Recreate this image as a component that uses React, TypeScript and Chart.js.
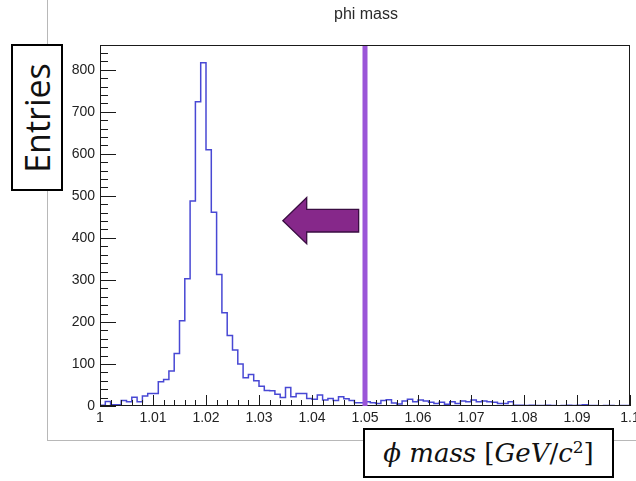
import React, { useEffect, useRef } from "react";
import { Chart, registerables } from "chart.js";

Chart.register(...registerables);

// ---- data ----
const X_MIN = 1.0;
const X_MAX = 1.1;
const BIN_WIDTH = 0.001;
const Y_MAX = 859;

const binValues = [
  2, 11, 3, 3, 13, 10, 21, 10, 24, 30,
  30, 58, 63, 83, 125, 203, 303, 488, 724, 817,
  610, 461, 313, 222, 168, 133, 100, 67, 75, 60,
  47, 37, 36, 28, 20, 44, 22, 30, 30, 18,
  16, 26, 14, 18, 13, 22, 17, 13, 8, 8,
  10, 8, 6, 13, 15, 7, 5, 12, 16, 10,
  14, 12, 9, 6, 9, 4, 10, 6, 12, 10,
  14, 10, 12, 10, 9, 6, 6, 10, 2, 2,
  1, 2, 1, 1, 2, 1, 0, 1, 2, 1,
  2, 3, 1, 1, 0, 1, 1, 0, 1, 1,
];

const xTickStep = 0.01;
const xMinorStep = 0.002;
const yTickStep = 100;
const yMinorStep = 20;

const chartTitle = "phi mass";
const yBoxLabel = "Entries";

// cut marker and arrow (data units)
const cutValue = 1.05;
const arrowTip = 1.0345;
const arrowHeadBase = 1.039;
const arrowTail = 1.0488;
const arrowLevel = 441;
const arrowHeadHalf = 55;
const arrowShaftHalf = 27;

const fmtX = (v: number) => Number(Number(v).toFixed(3)).toString();

const rootPlugin = {
  id: "rootStyle",
  afterDatasetsDraw(chart: any) {
    const { ctx, chartArea: a, scales } = chart;
    const x = scales.x;
    const y = scales.y;
    ctx.save();
    const seg = (x1: number, y1: number, x2: number, y2: number) => {
      ctx.beginPath();
      ctx.moveTo(x1, y1);
      ctx.lineTo(x2, y2);
      ctx.stroke();
    };
    // frame
    ctx.strokeStyle = "#1a1a1a";
    ctx.lineWidth = 1;
    ctx.strokeRect(a.left + 0.5, a.top + 0.5, a.right - a.left - 1, a.bottom - a.top - 1);
    // y ticks (inside)
    for (let v = 0; v <= Y_MAX; v += yMinorStep) {
      const py = Math.round(y.getPixelForValue(v)) + 0.5;
      const len = v % yTickStep === 0 ? 16 : 8;
      seg(a.left, py, a.left + len, py);
    }
    // x ticks (inside)
    const n = Math.round((X_MAX - X_MIN) / xMinorStep);
    const per = Math.round(xTickStep / xMinorStep);
    for (let i = 0; i <= n; i++) {
      const v = X_MIN + i * xMinorStep;
      const px = Math.round(x.getPixelForValue(v)) + 0.5;
      const len = i % per === 0 ? 11 : 6;
      seg(px, a.bottom, px, a.bottom - len);
    }
    // arrow
    const tx = x.getPixelForValue(arrowTip);
    const hx = x.getPixelForValue(arrowHeadBase);
    const ex = x.getPixelForValue(arrowTail);
    const cy = y.getPixelForValue(arrowLevel);
    const hh = y.getPixelForValue(arrowLevel - arrowHeadHalf) - cy;
    const sh = y.getPixelForValue(arrowLevel - arrowShaftHalf) - cy;
    ctx.beginPath();
    ctx.moveTo(tx, cy);
    ctx.lineTo(hx, cy - hh);
    ctx.lineTo(hx, cy - sh);
    ctx.lineTo(ex, cy - sh);
    ctx.lineTo(ex, cy + sh);
    ctx.lineTo(hx, cy + sh);
    ctx.lineTo(hx, cy + hh);
    ctx.closePath();
    ctx.fillStyle = "#86288a";
    ctx.fill();
    ctx.strokeStyle = "#3a0d42";
    ctx.lineWidth = 1.3;
    ctx.stroke();
    // cut line
    const cx = x.getPixelForValue(cutValue);
    ctx.strokeStyle = "#9b55d8";
    ctx.lineWidth = 5;
    seg(cx, a.top + 1, cx, a.bottom);
    // title
    ctx.fillStyle = "#2a2a2a";
    ctx.font = "16px 'Liberation Sans', Arial, sans-serif";
    ctx.textAlign = "center";
    ctx.textBaseline = "middle";
    ctx.fillText(chartTitle, (a.left + a.right) / 2 + 1, 15);
    ctx.restore();
  },
};

export default function App() {
  const ref = useRef<HTMLCanvasElement>(null);

  useEffect(() => {
    document.body.style.margin = "0";
    const pts: { x: number; y: number }[] = [{ x: X_MIN, y: 0 }];
    binValues.forEach((v, i) => pts.push({ x: X_MIN + i * BIN_WIDTH, y: v }));
    pts.push({ x: X_MAX, y: binValues[binValues.length - 1] });
    pts.push({ x: X_MAX, y: 0 });

    const font = { family: "'Liberation Sans', Arial, sans-serif", size: 14 };
    const chart = new Chart(ref.current as HTMLCanvasElement, {
      type: "line",
      data: {
        datasets: [
          {
            data: pts,
            borderColor: "#4848d4",
            borderWidth: 1.5,
            pointRadius: 0,
            stepped: "before",
            fill: false,
            tension: 0,
          } as any,
        ],
      },
      options: {
        animation: false,
        responsive: false,
        maintainAspectRatio: false,
        layout: { padding: { top: 45, right: 6, left: 0, bottom: 0 } },
        plugins: {
          legend: { display: false },
          tooltip: { enabled: false },
          title: { display: false },
        },
        scales: {
          x: {
            type: "linear",
            min: X_MIN,
            max: X_MAX,
            grid: { display: false, drawTicks: false },
            border: { display: false },
            ticks: {
              stepSize: xTickStep,
              padding: 4,
              maxRotation: 0,
              autoSkip: false,
              font,
              color: "#222",
              callback: (v: any) => fmtX(v),
            },
            afterFit: (s: any) => {
              s.height = 75;
              s.paddingLeft = 0;
              s.paddingRight = 0;
            },
          },
          y: {
            type: "linear",
            min: 0,
            max: Y_MAX,
            grid: { display: false, drawTicks: false },
            border: { display: false },
            ticks: {
              stepSize: yTickStep,
              includeBounds: false,
              padding: 5,
              font,
              color: "#222",
            },
            afterFit: (s: any) => {
              s.width = 100;
              s.paddingTop = 0;
              s.paddingBottom = 0;
            },
          },
        },
      } as any,
      plugins: [rootPlugin],
    });
    return () => chart.destroy();
  }, []);

  return (
    <div style={{ position: "relative", width: 636, height: 481, overflow: "hidden", background: "#fff" }}>
      <canvas ref={ref} width={636} height={481} style={{ display: "block", position: "absolute", left: 0, top: 0 }} />
      <div
        style={{
          position: "absolute",
          left: 47,
          top: -2,
          width: 620,
          height: 442,
          borderLeft: "1px solid #b8b8b8",
          borderBottom: "1px solid #b8b8b8",
          pointerEvents: "none",
        }}
      />
      <div
        style={{
          position: "absolute",
          left: 11,
          top: 44,
          width: 52,
          height: 147,
          boxSizing: "border-box",
          border: "2px solid #000",
          background: "#fff",
          display: "flex",
          alignItems: "center",
          justifyContent: "center",
        }}
      >
        <span
          style={{
            display: "inline-block",
            transform: "rotate(-90deg)",
            whiteSpace: "nowrap",
            fontFamily: "'Open Sans', 'Noto Sans', sans-serif",
            fontSize: 34,
            color: "#111",
            lineHeight: 1,
          }}
        >
          {yBoxLabel}
        </span>
      </div>
      <div
        style={{
          position: "absolute",
          left: 363,
          top: 428,
          width: 251,
          height: 50,
          boxSizing: "border-box",
          border: "2px solid #000",
          background: "#fff",
          display: "flex",
          alignItems: "center",
          justifyContent: "center",
          fontFamily: "'DejaVu Serif', serif",
          fontSize: 26,
          color: "#111",
          whiteSpace: "nowrap",
        }}
      >
        <span>
          <i>ϕ mass</i> [<i>GeV</i>/<i>c</i>
          <sup style={{ fontSize: 17, verticalAlign: "0.55em", lineHeight: 0 }}>2</sup>]
        </span>
      </div>
    </div>
  );
}
